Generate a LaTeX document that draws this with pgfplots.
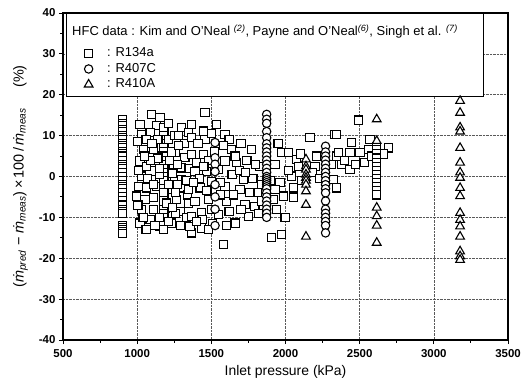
\documentclass[border=0pt]{standalone}
\usepackage{pgfplots}
\pgfplotsset{compat=1.18}
\usepackage{fontspec}
\setmainfont{Liberation Sans}
\begin{document}
\begin{tikzpicture}
\begin{axis}[
  name=ax,
  scale only axis,
  width=445bp, height=327bp,
  xmin=500, xmax=3500, ymin=-40, ymax=40,
  xtick={500,1000,...,3500}, ytick={-40,-30,...,40},
  minor x tick num=1, minor y tick num=1,
  tick pos=left, tick align=outside,
  major tick length=4bp, minor tick length=2.5bp,
  grid=major,
  major grid style={densely dotted, gray!70!black, line width=0.6pt},
  axis line style={line width=1.3pt},
  every tick/.style={line width=1pt, black},
  /pgf/number format/assume math mode=true,
  /pgf/number format/1000 sep={},
  ticklabel style={font=\fontsize{11.5}{12}\selectfont\bfseries},
  xticklabel style={yshift=-1.5bp},
  xlabel={Inlet pressure (kPa)},
  xlabel style={font=\fontsize{14}{15}\selectfont, yshift=-1bp},
  ylabel={(\textit{\.m}\textsubscript{\textit{pred}} − \textit{\.m}\textsubscript{\textit{meas}})\,×\,100\,/\,\textit{\.m}\textsubscript{\textit{meas}}\hspace{1.4em}(\%)},
  ylabel style={font=\fontsize{14.5}{15}\selectfont, yshift=4bp},
  legend style={at={(axis cs:560,31.8)}, anchor=north west, draw=none, fill=none,
    font=\fontsize{13}{14}\selectfont, row sep=2bp, inner sep=0pt,
    nodes={inner xsep=2bp, inner ysep=0.5bp, text height=9.5bp, text depth=3bp}},
  legend cell align=left,
  myleg/.style={legend image code/.code={\path (0bp,0bp) (32bp,0bp); \draw[##1] plot coordinates {(16bp,0bp)};}},
  every axis plot/.append style={only marks, black, line width=1.1pt, mark options={fill=white}},
]
\draw[line width=0.9pt, fill=white] (axis cs:520,39.8) rectangle (axis cs:3332,19.7);
\node[anchor=west, font=\fontsize{13}{14}\selectfont, inner sep=0pt] at (axis cs:561,35.4)
  {HFC data : Kim and O'Neal \textsuperscript{\itshape(2)}, Payne and O'Neal\textsuperscript{\itshape(6)}, Singh et al. \textsuperscript{\itshape(7)}};
% R134a
\addplot[mark=square*, mark size=4.1bp, myleg] table {
900 14
900 13
900 12.5
900 11.5
900 11
900 10
900 9.5
900 9
900 8
900 7.5
900 7
900 6
900 5.5
900 5
900 4
900 3
900 2.5
900 2
900 1
900 0
900 -1
900 -2
900 -2.5
900 -3
900 -4
900 -5
900 -6
900 -7
900 -8
900 -8.5
900 -9
900 -12
900 -12.5
900 -13
900 -13.5
900 -14
1019 12.8
1098 15.2
1154 14.4
1131 12.4
1030 10.3
1087 10.7
1176 11.1
1300 12
1345 10.7
1041 6.6
1109 6.6
1165 7
1255 5.8
1322 4.6
1019 3.8
1064 2.5
1120 3.4
1176 2.5
1244 2.9
1300 2.1
1030 0.1
1098 -0.7
1199 -0.3
1300 -0.7
1008 -2.4
1064 -2.8
1131 -2.4
1221 -3.2
1311 -2.8
997 -4.8
1053 -5.7
1109 -5.2
1176 -5.7
1266 -5.7
1345 -6.5
1030 -8.1
1109 -8.1
1188 -7.7
1289 -8.5
1019 -11.4
1087 -10.6
1154 -12.2
1176 -13
1232 -11.4
1334 -10.1
1180 12
1180 10
1180 9
1180 8
1180 7
1180 6
1180 5
1180 4
1180 3
1180 2
1180 1
1180 0
1180 -1
1180 -3
1180 -4
1180 -6
1180 -8
1180 -9
1180 -10
1180 -11
1060 9
1140 9
1210 9
1250 10
1070 -0.5
1150 0.5
1240 0.8
1270 -2
1005 -7
1210 -11
1260 -9
1290 -12
1140 4.5
1090 4
1000 8.5
1320 8
1270 3
1230 6
1350 2
1060 -13
1120 -12
1200 -6.5
1240 -7.5
1010 1.5
1050 5
1100 8
1150 -10
1220 4
1280 7.5
1330 -1
1340 -4.5
1260 -4
1110 -2
1040 -10
1210 13
1280 10
1150 2
1210 -2
1457 15.6
1536 12.8
1368 12.8
1446 11.1
1592 10.3
1368 9.5
1457 9.1
1637 6.6
1772 6.6
1368 5.4
1446 5.4
1592 3.8
1671 3.4
1390 1.3
1469 1.3
1547 1.7
1716 -0.7
1345 -3.2
1424 -2.8
1592 -2.4
1693 -3.2
1390 -6.1
1480 -5.7
1604 -6.1
1727 -6.9
1794 -7.3
1368 -9.8
1435 -8.9
1547 -9.3
1660 -11.4
1749 -9.8
1368 -13.8
1435 -12.6
1581 -16.7
1356 -12.2
1840 -2
1828 2.5
1502 -1.2
1410 8
1500 10.5
1620 9
1700 8
1740 4
1800 3
1400 3.5
1480 4
1520 6
1640 0.5
1690 1.5
1780 -0.5
1810 -4
1420 -0.5
1470 -3.5
1560 -4.5
1650 -4.5
1760 -4
1440 -10.5
1500 -8
1620 -8.5
1700 -8
1820 -9
1510 -11.5
1600 -12
1480 -13
1380 -1.5
1450 2.5
1560 -1.5
1660 5
1730 1
1400 -11
1580 7.5
1840 -6
1974 5.8
2019 5.8
1929 2.9
2075 4.2
2042 0.1
1963 -1.5
2053 -2.8
1929 -3.2
1985 -4.8
2053 -5.2
1918 -5.7
1997 -10.1
1907 -15
1974 -14.2
2165 9.5
2210 5
2087 2.5
2199 2.5
2311 2.9
2334 10.3
2323 -0.7
2345 5
1950 8
2020 1.5
2110 -1
2100 5.5
2180 1
2230 -0.5
1900 -1
1940 -8
2491 13.8
2345 10.3
2446 8.3
2356 5.8
2435 5.8
2502 5.8
2558 6.6
2435 1.7
2379 2.9
2345 -2.8
2693 7
2570 9.1
2400 4
2470 3
2530 3.5
2580 5
2660 5.5
2615 7.4
2615 6.5
2615 5.5
2615 4.5
2615 3.5
2615 2.5
2615 1.5
2615 0.5
2615 -0.5
2615 -1.5
2615 -2.5
2615 -3.5
2615 -4.5
};
\addlegendentry{: R134a}
% R407C
\addplot[mark=*, mark size=4.2bp, myleg] table {
1873 15.2
1873 14
1873 13
1873 11
1873 9.5
1873 8
1873 7
1873 6
1873 5
1873 4
1873 3
1873 2
1873 1
1873 0
1873 -0.5
1873 -1
1873 -1.5
1873 -2
1873 -2.5
1873 -3
1873 -4
1873 -5
1873 -6
1873 -7
1873 -8
1873 -9
1873 -10
2270 7.4
2270 6
2270 5
2270 4
2270 3
2270 2
2270 1
2270 0
2270 -1
2270 -2
2270 -3
2270 -4
2270 -6
2270 -8
2270 -9
2270 -10
2270 -11
2270 -12
2270 -13.8
1525 8.3
1525 4.6
1525 3
1525 1.2
1525 -2
1525 -5
1525 -8
1525 -12
};
\addlegendentry{: R407C}
% R410A
\addplot[mark=triangle*, mark size=5bp, myleg] table {
2138 4.2
2138 2.5
2138 1.7
2138 0.5
2138 -0.3
2138 -1
2138 -2
2138 -3.6
2138 -6.9
2138 -14.7
2615 14
2615 8.7
2615 -7.6
2615 -9.7
2615 -12
2615 -16.2
3177 18.5
3177 15.6
3177 12
3177 11
3177 7
3177 3.4
3177 1
3177 -0.3
3177 -2.8
3177 -4.8
3177 -8.9
3177 -10.6
3177 -12.2
3177 -14.7
3177 -18.3
3177 -19.5
3177 -20.4
};
\addlegendentry{: R410A}
\end{axis}
\pgfresetboundingbox
\path[use as bounding box] ([xshift=-63bp,yshift=-49bp]ax.south west) rectangle ([xshift=13bp,yshift=13bp]ax.north east);
\end{tikzpicture}
\end{document}
